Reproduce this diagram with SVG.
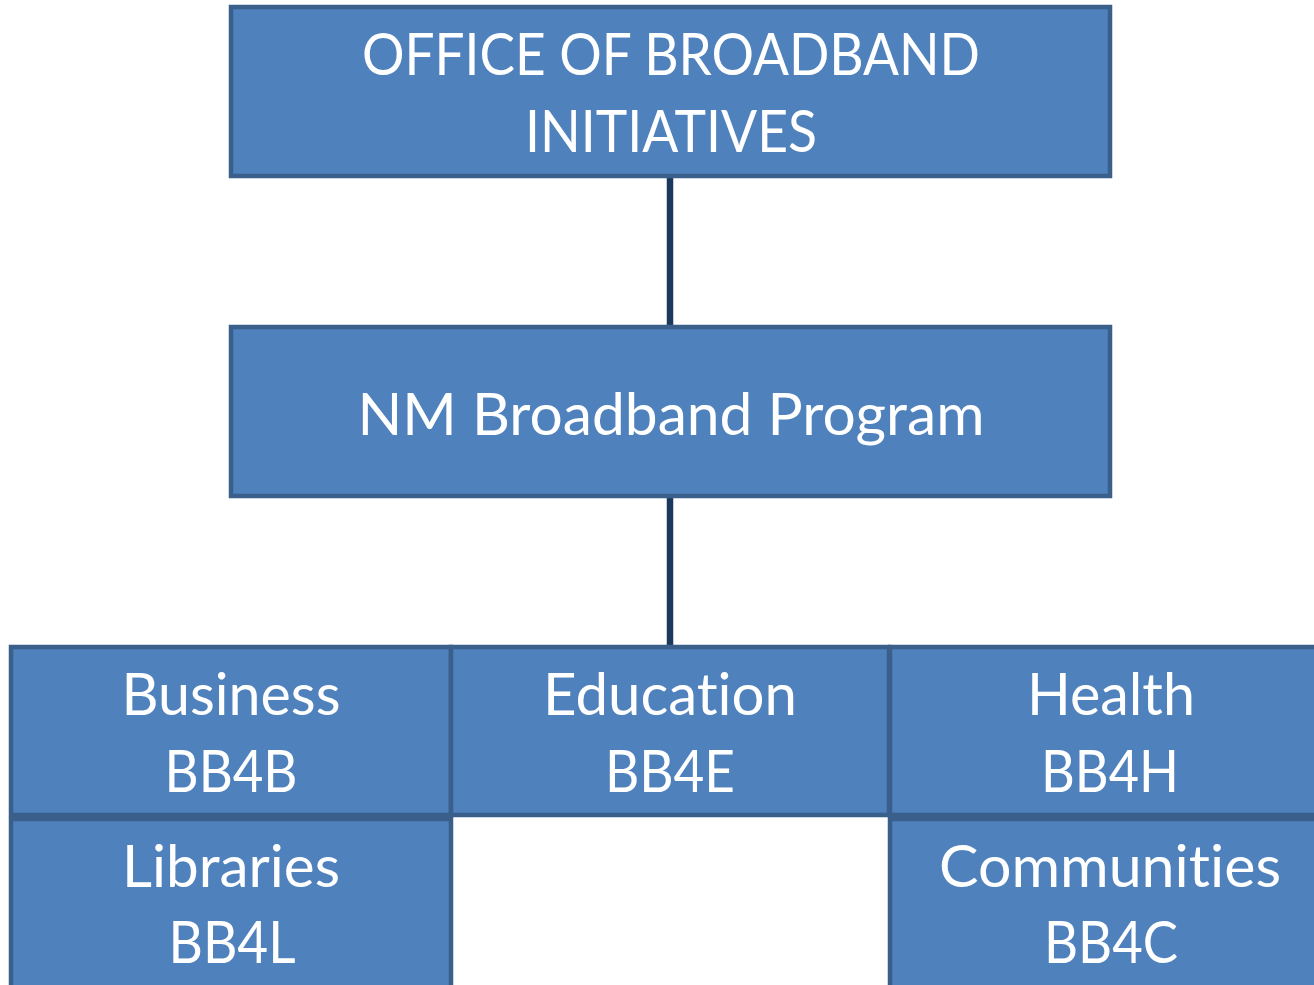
<svg xmlns="http://www.w3.org/2000/svg" width="1314" height="985" viewBox="0 0 1314 985">
<style>
.box{fill:#4F81BD;stroke:#3A5F8B;stroke-width:4.5}
.t{font-family:Lato,"Open Sans",sans-serif;font-size:59px;fill:#FFFFFF;text-anchor:middle;font-variant-ligatures:none;font-feature-settings:"liga" 0,"clig" 0}
.c{stroke:#1B385E;stroke-width:6.5;fill:none}
</style>
<rect width="1314" height="985" fill="#FFFFFF"/>
<g id="connectors">
<line class="c" x1="670" y1="177" x2="670" y2="327"/>
<line class="c" x1="670" y1="496" x2="670" y2="647"/>
</g>
<g id="office">
<rect class="box" x="231" y="7" width="879" height="169"/>
<text class="t" x="671" y="75" textLength="618" lengthAdjust="spacingAndGlyphs">OFFICE OF BROADBAND</text>
<text class="t" x="671" y="152" textLength="292" lengthAdjust="spacingAndGlyphs">INITIATIVES</text>
</g>
<g id="program">
<rect class="box" x="231" y="327" width="879" height="169"/>
<text class="t" x="671" y="435" textLength="627" lengthAdjust="spacingAndGlyphs">NM Broadband Program</text>
</g>
<g id="business">
<rect class="box" x="11" y="647" width="440" height="168"/>
<text class="t" x="231" y="715" textLength="219" lengthAdjust="spacingAndGlyphs">Business</text>
<text class="t" x="231" y="792" textLength="133" lengthAdjust="spacingAndGlyphs">BB4B</text>
</g>
<g id="education">
<rect class="box" x="451" y="647" width="438" height="168"/>
<text class="t" x="670" y="715" textLength="254" lengthAdjust="spacingAndGlyphs">Education</text>
<text class="t" x="670" y="792" textLength="130" lengthAdjust="spacingAndGlyphs">BB4E</text>
</g>
<g id="health">
<rect class="box" x="890" y="647" width="444" height="168"/>
<text class="t" x="1111" y="715" textLength="168" lengthAdjust="spacingAndGlyphs">Health</text>
<text class="t" x="1110" y="792" textLength="138" lengthAdjust="spacingAndGlyphs">BB4H</text>
</g>
<g id="libraries">
<rect class="box" x="11" y="819" width="440" height="180"/>
<text class="t" x="231" y="887" textLength="218" lengthAdjust="spacingAndGlyphs">Libraries</text>
<text class="t" x="232" y="963" textLength="127" lengthAdjust="spacingAndGlyphs">BB4L</text>
</g>
<g id="communities">
<rect class="box" x="890" y="819" width="444" height="180"/>
<text class="t" x="1110" y="887" textLength="342" lengthAdjust="spacingAndGlyphs">Communities</text>
<text class="t" x="1111" y="963" textLength="134" lengthAdjust="spacingAndGlyphs">BB4C</text>
</g>
</svg>
